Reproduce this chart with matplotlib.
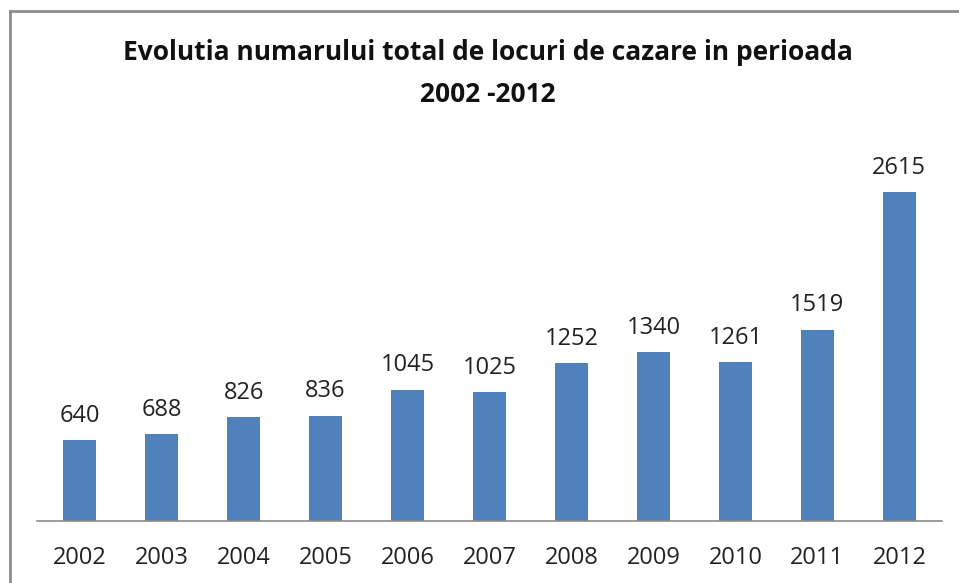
import matplotlib.pyplot as plt
from matplotlib.lines import Line2D

years = ['2002', '2003', '2004', '2005', '2006', '2007', '2008', '2009', '2010', '2011', '2012']
places = [640, 688, 826, 836, 1045, 1025, 1252, 1340, 1261, 1519, 2615]

plt.rcParams['font.family'] = ['Open Sans', 'DejaVu Sans']

W, H = 959, 583
fig = plt.figure(figsize=(W / 100, H / 100), dpi=100)

# axes placed in pixel terms of the reference
ax = fig.add_axes([37 / W, 62 / H, (942 - 37) / W, (521 - 143.6) / H])
x = range(len(years))
bars = ax.bar(x, places, width=0.40, color='#4F81BD')
ax.set_xlim(-0.52, len(years) - 0.48)
ax.set_ylim(0, 3000)

for xi, v in zip(x, places):
    ax.annotate(str(v), (xi, v), xytext=(0, 9), textcoords='offset points',
                ha='center', va='bottom', fontsize=17, color='#222222')

ax.set_xticks(list(x))
ax.set_xticklabels(years, fontsize=17, color='#222222')
ax.tick_params(axis='x', length=0, pad=18)
ax.set_yticks([])
for side in ['left', 'right', 'top']:
    ax.spines[side].set_visible(False)
ax.spines['bottom'].set_color('#8a8a8a')
ax.spines['bottom'].set_linewidth(1.2)

fig.text(488 / W, 1 - 53 / H, 'Evolutia numarului total de locuri de cazare in perioada',
         ha='center', va='center', fontsize=19, fontweight='bold', color='#111111')
fig.text(488 / W, 1 - 94 / H, '2002 -2012',
         ha='center', va='center', fontsize=19, fontweight='bold', color='#111111')

# chart frame (only top and left edges visible in the crop)
fig.add_artist(Line2D([9.5 / W, 1], [1 - 11 / H, 1 - 11 / H], color='#8c8c8c', lw=2))
fig.add_artist(Line2D([9.5 / W, 9.5 / W], [0, 1 - 11 / H], color='#8c8c8c', lw=2))

fig.savefig('out.png', dpi=100)
